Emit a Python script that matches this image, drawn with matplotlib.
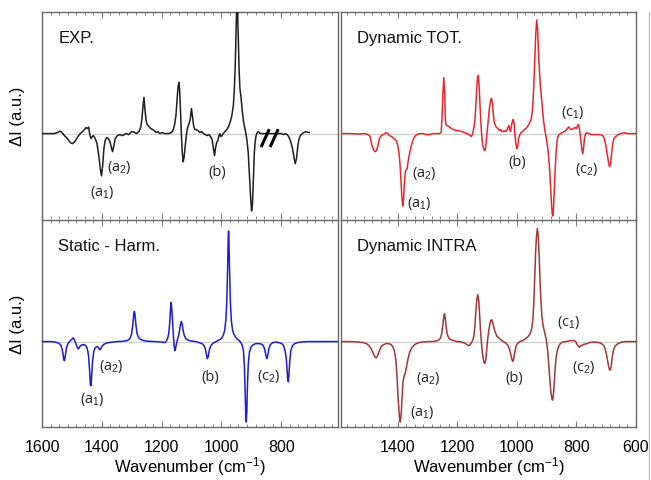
import matplotlib
matplotlib.use("Agg")
import matplotlib.pyplot as plt
from matplotlib.ticker import MultipleLocator, AutoMinorLocator
from matplotlib.lines import Line2D

plt.rcParams["font.family"] = ["Liberation Sans", "DejaVu Sans"]
plt.rcParams["mathtext.fontset"] = "custom"
plt.rcParams["mathtext.rm"] = "Liberation Sans"
plt.rcParams["mathtext.it"] = "Liberation Sans:italic"

# ---- spectra: (wavenumber cm-1, delta I a.u.) ----
exp_pts = [
    (1600, 0), (1560, 0), (1548, 1), (1540, 2.5), (1533, 1), (1525, -2), (1515, -5),
    (1505, -9), (1498, -10), (1490, -8), (1482, -4), (1475, -1), (1465, 2), (1458, 4),
    (1453, 6), (1448, 5), (1444, 6.5), (1440, -1), (1436, -5), (1432, -3), (1428, -2),
    (1422, -5), (1416, -10), (1410, -22), (1405, -35), (1401, -42), (1397, -32),
    (1393, -15), (1389, -7), (1384, -4), (1378, -5), (1372, -9), (1367, -15), (1364, -18),
    (1360, -12), (1355, -5), (1348, -2), (1340, -1), (1330, -2), (1320, 0), (1310, -1),
    (1300, 2), (1292, 1.5), (1284, 0), (1276, 2), (1270, 6), (1266, 14), (1262, 28),
    (1259, 36), (1256, 25), (1252, 13), (1248, 9), (1242, 7), (1236, 5), (1230, 4),
    (1224, 3), (1218, 1), (1212, 2), (1206, 0), (1198, 1), (1190, 0), (1176, 0), (1168, 1),
    (1162, 3), (1157, 8), (1152, 18), (1148, 35), (1145, 46), (1142, 51), (1140, 45),
    (1137, 25), (1134, 0), (1131, -18), (1128, -28), (1125, -24), (1121, -12), (1117, -1),
    (1113, 6), (1108, 10), (1104, 15), (1100, 25), (1097, 18), (1093, 8), (1089, 4),
    (1084, 4), (1078, 3), (1072, 1), (1066, 2), (1060, 0), (1054, -1), (1048, -2),
    (1042, -1), (1036, -3), (1031, -6), (1027, -14), (1023, -22), (1020, -15), (1016, -9),
    (1012, -7), (1008, -2), (1005, 0), (1002, -3), (998, -2), (994, 0), (988, 2), (982, 4),
    (976, 7), (970, 12), (965, 18), (960, 28), (957, 42), (954, 65), (951, 100), (949, 125),
    (948, 130), (946, 125), (944, 100), (941, 65), (938, 45), (934, 35), (930, 22),
    (926, 12), (922, 6), (918, 0), (914, -8), (910, -20), (906, -42), (902, -65), (899, -77),
    (896, -70), (893, -45), (890, -20), (887, -8), (884, -2), (880, 1), (876, 2), (870, 0),
    (850, 0), (830, 0), (810, 0), (800, 0), (792, -1), (786, 0), (780, -1), (775, -3),
    (768, -8), (762, -15), (757, -24), (753, -30), (749, -25), (745, -14), (741, -6),
    (736, -2), (730, 0), (724, 1), (718, 2), (712, 1.5), (706, 1),
]

tot_pts = [
    (1590, 0), (1560, 0), (1530, -0.5), (1510, 0), (1500, -1), (1494, -2), (1490, -6),
    (1486, -12), (1481, -16), (1476, -18), (1471, -17), (1466, -12), (1461, -5), (1455, -2),
    (1448, -1), (1443, 0), (1438, 1), (1434, 0.5), (1428, -2), (1420, -3), (1412, -5),
    (1405, -7), (1400, -11), (1396, -18), (1392, -30), (1389, -45), (1386, -62), (1383, -72),
    (1380, -65), (1377, -48), (1374, -38), (1371, -36), (1368, -35), (1365, -28), (1360, -20),
    (1355, -13), (1349, -7), (1343, -3), (1336, -1), (1325, 0), (1315, 0), (1305, -1),
    (1294, -1), (1283, 0), (1271, 0), (1260, 0), (1254, 1), (1251, 15), (1248, 40),
    (1245, 55.7), (1242, 40), (1240, 15), (1238, 9), (1234, 8), (1228, 7), (1220, 5),
    (1212, 4), (1205, 3), (1195, 3), (1185, 2), (1175, 1), (1166, 0), (1160, -1), (1153, -3),
    (1148, 0), (1144, 6), (1141, 12), (1138, 25), (1135, 42), (1132, 55), (1129, 58),
    (1126, 45), (1123, 25), (1120, 8), (1117, -5), (1114, -12), (1110, -16), (1107, -17),
    (1104, -12), (1101, -3), (1098, 5), (1095, 15), (1092, 25), (1088, 33), (1085, 35),
    (1082, 30), (1079, 20), (1076, 12), (1072, 8), (1068, 6), (1063, 5), (1058, 3), (1054, 4),
    (1050, 2), (1046, 2), (1042, 3), (1038, 2), (1034, 3), (1030, 6), (1027, 8), (1024, 5),
    (1021, 2), (1018, 8), (1015, 12), (1012, 14), (1009, 10), (1006, -2), (1003, -10),
    (1000, -15), (997, -13), (994, -5), (990, -1), (985, 1), (978, 3), (970, 5), (964, 7),
    (958, 10), (952, 14), (948, 22), (945, 35), (942, 55), (939, 80), (936, 102), (933, 113),
    (930, 102), (927, 80), (924, 62), (921, 48), (918, 38), (914, 25), (910, 12), (906, 4),
    (902, -3), (898, -10), (894, -20), (890, -35), (887, -52), (884, -68), (881, -80),
    (879, -82), (877, -75), (874, -55), (871, -35), (868, -18), (865, -8), (862, -3),
    (858, -1), (853, 0), (847, 1), (841, 2), (835, 3), (830, 5), (826, 6.7), (822, 5),
    (816, 4), (810, 5), (805, 6), (800, 5), (796, 8), (793, 9), (790, 5), (787, -2),
    (784, -10), (781, -17), (779, -20), (776, -15), (773, -5), (769, 0), (764, 1), (758, 0),
    (750, -1), (740, -1), (730, -1), (720, -1), (712, -2), (706, -5), (701, -12), (697, -20),
    (693, -27), (689, -33), (685, -30), (682, -20), (678, -10), (674, -5), (668, -3),
    (660, -1), (650, 0), (640, 1), (630, 0), (620, 0), (610, 0), (600, 0),
]

harm_pts = [
    (1600, 0), (1570, 0), (1555, -0.5), (1545, -1.5), (1538, -3), (1533, -7), (1530, -12),
    (1527, -18), (1525, -19), (1522, -14), (1518, -6), (1513, -2), (1508, 0), (1503, 1.5),
    (1498, 3), (1495, 3.7), (1492, 2), (1488, -1), (1484, -4), (1481, -6.5), (1478, -7.3),
    (1474, -5), (1468, -3.5), (1462, -3), (1456, -3.5), (1451, -5), (1447, -9), (1444, -15),
    (1441, -28), (1438, -43), (1436, -44), (1434, -35), (1431, -20), (1427, -10), (1422, -6),
    (1416, -5), (1411, -6), (1407, -8), (1404, -7.5), (1400, -5), (1394, -3), (1385, -1.5),
    (1370, -0.7), (1350, 0), (1330, 0.3), (1315, 1), (1306, 3), (1300, 8), (1296, 17),
    (1293, 28), (1291, 30), (1289, 27), (1286, 17), (1282, 8), (1277, 4), (1270, 2),
    (1260, 1), (1245, 0.3), (1220, 0), (1200, -0.5), (1190, -1), (1185, 0), (1180, 3),
    (1176, 8), (1173, 18), (1170, 33), (1168, 39), (1166, 33), (1163, 18), (1160, 4),
    (1158, -4), (1156, -9), (1154, -8), (1151, -3), (1147, 2), (1143, 6), (1140, 11),
    (1137, 17), (1134, 20), (1131, 17), (1128, 11), (1124, 6), (1119, 3), (1112, 1.5),
    (1100, 0.5), (1085, 0), (1075, -1), (1065, -2), (1058, -4), (1053, -8), (1050, -13),
    (1047, -17), (1044, -15), (1040, -8), (1035, -4), (1028, -1.5), (1018, 0), (1008, 1.5),
    (1000, 3), (994, 6), (989, 11), (985, 22), (982, 40), (979, 75), (977, 105), (976, 110),
    (975, 105), (973, 75), (970, 40), (967, 22), (963, 12), (958, 7), (950, 3.5), (942, 1.5),
    (935, -1), (930, -4), (926, -10), (923, -25), (920, -55), (918, -78), (917, -80),
    (915, -70), (913, -45), (910, -22), (906, -10), (900, -5), (893, -3), (885, -2),
    (875, -2), (866, -2.5), (860, -4), (855, -8), (851, -14), (848, -17), (845, -14),
    (841, -7), (836, -3), (828, -1), (818, -0.5), (808, -1), (798, -2), (792, -4), (787, -9),
    (783, -17), (780, -30), (778, -38), (776, -40), (774, -33), (771, -18), (767, -8),
    (762, -4), (755, -2), (745, -1), (730, -0.3), (710, 0), (650, 0), (610, 0),
]

intra_pts = [
    (1590, 0), (1560, 0), (1530, -0.5), (1516, -1), (1505, -2), (1496, -4), (1489, -7),
    (1483, -11), (1477, -15), (1472, -16.3), (1467, -14), (1461, -9), (1455, -5), (1447, -3),
    (1438, -2), (1430, -2), (1422, -3), (1416, -5), (1411, -9), (1406, -18), (1402, -35),
    (1398, -58), (1394, -75), (1391, -80), (1388, -72), (1385, -55), (1382, -40), (1378, -34),
    (1374, -31), (1370, -25), (1365, -17), (1359, -10), (1352, -6), (1343, -3), (1333, -1.5),
    (1320, -0.5), (1300, 0), (1280, 0), (1265, 1), (1257, 3), (1252, 8), (1248, 17),
    (1245, 25), (1243, 27.7), (1241, 25), (1238, 17), (1234, 8), (1229, 4), (1222, 2),
    (1212, 1), (1200, 0), (1185, -0.5), (1175, -1.5), (1167, -3), (1162, -4), (1158, -3.5),
    (1154, -2), (1150, 0), (1146, 3), (1143, 8), (1140, 18), (1137, 32), (1134, 42),
    (1131, 46.7), (1128, 42), (1125, 28), (1122, 12), (1119, 0), (1116, -10), (1113, -17),
    (1110, -21), (1107, -21.7), (1104, -18), (1101, -8), (1098, 2), (1094, 11), (1090, 18),
    (1087, 21), (1084, 21.7), (1081, 19), (1077, 14), (1072, 9), (1066, 5), (1058, 3),
    (1050, 1), (1042, -0.5), (1035, -2), (1029, -4), (1024, -8), (1020, -13), (1017, -17),
    (1014, -19.7), (1011, -18), (1007, -11), (1003, -5), (998, -2), (990, 0), (980, 1),
    (970, 3), (962, 5), (955, 8), (950, 13), (946, 22), (943, 38), (940, 62), (937, 88),
    (934, 105), (931, 112.7), (928, 105), (925, 85), (922, 60), (919, 40), (916, 26),
    (912, 16), (908, 11), (904, 6), (900, 0), (897, -8), (894, -18), (891, -30), (888, -42),
    (885, -52), (882, -57), (880, -58.3), (878, -55), (875, -45), (872, -30), (869, -18),
    (865, -10), (860, -5), (854, -2), (846, -0.5), (835, 0), (820, 1), (808, 1), (802, 0),
    (798, -3), (794, -4), (790, -5.7), (786, -4), (782, -4), (778, -3), (772, -2.5),
    (764, -2), (756, -1), (745, -0.5), (735, -0.5), (725, -1), (716, -2), (708, -4),
    (702, -9), (697, -16), (693, -23), (689, -28), (686, -28.3), (683, -24), (680, -16),
    (676, -9), (671, -5), (665, -3), (657, -1.5), (648, -0.5), (635, 0), (610, 0), (600, 0),
]

# panel names and peak label spots (wavenumber, delta I, text)
titles = ["EXP.", "Dynamic TOT.", "Static - Harm.", "Dynamic INTRA"]
exp_labels = [(1343, -33, "(a$_2$)"), (1400, -58, "(a$_1$)"), (1013, -38, "(b)")]
tot_labels = [(1310, -39, "(a$_2$)"), (1327, -69, "(a$_1$)"), (997, -28, "(b)"),
              (814, 22, "(c$_1$)"), (767, -35, "(c$_2$)")]
harm_labels = [(1370, -24, "(a$_2$)"), (1433, -57, "(a$_1$)"), (1037, -35, "(b)"),
               (843, -34, "(c$_2$)")]
intra_labels = [(1297, -36, "(a$_2$)"), (1317, -70, "(a$_1$)"), (1007, -36, "(b)"),
                (827, 20, "(c$_1$)"), (777, -25, "(c$_2$)")]

W, H = 651, 481
fig = plt.figure(figsize=(W / 100, H / 100), dpi=100)


def add_ax(l, r, t, b):
    return fig.add_axes([l / W, 1 - b / H, (r - l) / W, (b - t) / H])


panels = [
    (add_ax(42, 338, 13, 220), exp_pts, "#1e1e1e", exp_labels, (1600, 610)),
    (add_ax(341, 636, 13, 220), tot_pts, "#e8262c", tot_labels, (1590, 600)),
    (add_ax(42, 338, 221, 428), harm_pts, "#1c1cd0", harm_labels, (1600, 610)),
    (add_ax(341, 636, 221, 428), intra_pts, "#a23636", intra_labels, (1590, 600)),
]

for n, (ax, pts, col, labels, xl) in enumerate(panels):
    w, y = zip(*pts)
    ax.axhline(0, color="#cfcfcf", lw=0.9, zorder=1)
    ax.plot(w, y, color=col, lw=1.1, zorder=3)
    ax.set_xlim(*xl)
    ax.set_ylim(-85, 121)
    ax.set_yticks([])
    ax.xaxis.set_major_locator(MultipleLocator(200))
    ax.xaxis.set_minor_locator(AutoMinorLocator(7))
    ax.tick_params(axis="x", which="both", direction="in", top=True, bottom=True,
                   color="#777777", labelsize=11.5, pad=9)
    ax.tick_params(axis="x", which="major", length=4)
    ax.tick_params(axis="x", which="minor", length=2)
    for s in ax.spines.values():
        s.set_color("#666666")
        s.set_linewidth(1.0)
    ax.text(0.055, 0.855, titles[n], transform=ax.transAxes, fontsize=12, color="#111111")
    for lx, ly, lt in labels:
        ax.text(lx, ly, lt, fontsize=10.5, ha="center", va="center", color="#222222",
                family=["Open Sans", "DejaVu Sans"])
    if n < 2:
        ax.spines["bottom"].set_visible(False)
        ax.tick_params(axis="x", labelbottom=False)
    else:
        ax.set_xlabel("Wavenumber (cm$^{-1}$)", fontsize=12, labelpad=0)
    if n % 2 == 0:
        ax.set_ylabel("ΔI (a.u.)", fontsize=12, labelpad=12)

# break mark on the experimental trace
ax_exp = panels[0][0]
for x0, x1 in [(865, 842), (835, 812)]:
    ax_exp.plot([x0, x1], [-12, 3], color="black", lw=2.2, zorder=4)

# edge of the cropped neighbouring panel
fig.add_artist(Line2D([649 / W, 649 / W], [0, 1 - 13 / H], transform=fig.transFigure,
                      color="#bdbdbd", lw=1.0))

fig.savefig("out.png", dpi=100)
